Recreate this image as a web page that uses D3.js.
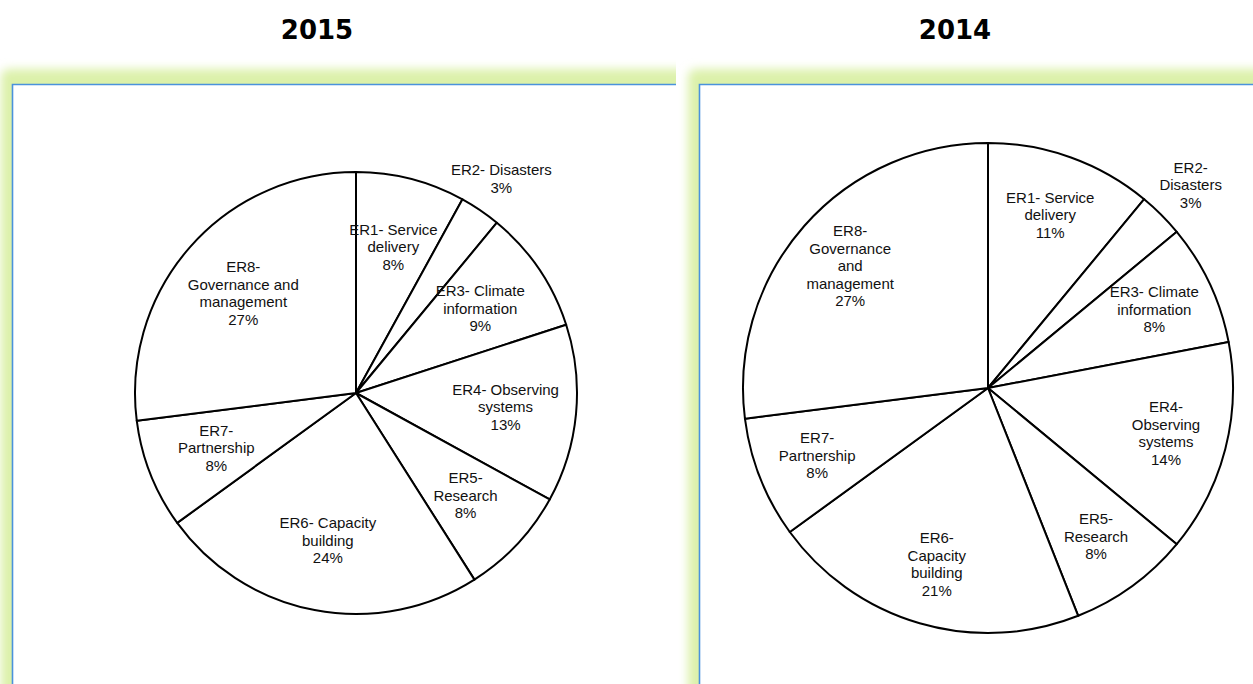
<!DOCTYPE html>
<html>
<head>
<meta charset="utf-8">
<script src="https://cdn.jsdelivr.net/npm/d3@7"></script>
<style>
    body { margin: 0; background: #fff; }
    svg { display: block; }
    .title { font-family: "DejaVu Sans", Verdana, sans-serif; font-weight: bold; font-size: 26px; fill: #000; }
    .label { font-family: "Liberation Sans", Arial, sans-serif; font-size: 15px; fill: #111; }
    .slice { fill: #fff; stroke: #000; stroke-width: 2px; stroke-linejoin: round; }
</style>
</head>
<body>
<svg id="chart" width="1253" height="684"></svg>
<script>
// category names, wrapped as in each chart
const labels2015 = [
    ['ER1- Service', 'delivery'],
    ['ER2- Disasters'],
    ['ER3- Climate', 'information'],
    ['ER4- Observing', 'systems'],
    ['ER5-', 'Research'],
    ['ER6- Capacity', 'building'],
    ['ER7-', 'Partnership'],
    ['ER8-', 'Governance and', 'management']
];
const labels2014 = [
    ['ER1- Service', 'delivery'],
    ['ER2-', 'Disasters'],
    ['ER3- Climate', 'information'],
    ['ER4-', 'Observing', 'systems'],
    ['ER5-', 'Research'],
    ['ER6-', 'Capacity', 'building'],
    ['ER7-', 'Partnership'],
    ['ER8-', 'Governance', 'and', 'management']
];

// shares in percent
const values2015 = [8, 3, 9, 13, 8, 24, 8, 27];
const values2014 = [11, 3, 8, 14, 8, 21, 8, 27];

const titles = ['2015', '2014'];

const charts = [
    { title: titles[0], labels: labels2015, values: values2015,
      panel: { x: 12, y: 84, w: 664 }, titleX: 317, cx: 356, cy: 393, r: 221, labelRatio: 0.68 },
    { title: titles[1], labels: labels2014, values: values2014,
      panel: { x: 699, y: 84, w: 554 }, titleX: 955, cx: 988, cy: 388, r: 245, labelRatio: 0.75 }
];

const svg = d3.select('#chart');
const H = 684;

let defs = svg.append('defs');
defs.append('filter')
    .attr('id', 'glow')
    .attr('x', '-20%').attr('y', '-20%')
    .attr('width', '140%').attr('height', '140%')
    .append('feGaussianBlur')
    .attr('stdDeviation', 5);

function drawPanel(c, i) {
    let p = c.panel;

    defs.append('clipPath')
        .attr('id', 'clip' + i)
        .append('rect')
        .attr('x', p.x - 30).attr('y', p.y - 30)
        .attr('width', p.w + 30).attr('height', H);

    let g = svg.append('g').attr('clip-path', 'url(#clip' + i + ')');

    g.append('rect')
        .attr('x', p.x - 11).attr('y', p.y - 15)
        .attr('width', p.w + 40).attr('height', H)
        .attr('rx', 8)
        .attr('fill', '#dcf1aa')
        .attr('filter', 'url(#glow)');

    g.append('rect')
        .attr('x', p.x).attr('y', p.y)
        .attr('width', p.w + 40).attr('height', H)
        .attr('fill', '#fff');

    g.append('path')
        .attr('d', 'M' + (p.x + 0.5) + ',' + H + 'V' + (p.y + 0.5) + 'H' + (p.x + p.w))
        .attr('fill', 'none')
        .attr('stroke', '#4a92dc')
        .attr('stroke-width', 1.6);
}

function drawPie(c) {
    let pie = d3.pie().sort(null).value(d => d);
    let arcs = pie(c.values);

    let arc = d3.arc().innerRadius(0).outerRadius(c.r);

    svg.append('text')
        .classed('title', true)
        .attr('x', c.titleX)
        .attr('y', 39)
        .attr('text-anchor', 'middle')
        .text(c.title);

    let g = svg.append('g')
        .attr('transform', 'translate(' + c.cx + ',' + c.cy + ')');

    g.selectAll('path')
        .data(arcs)
        .join('path')
        .classed('slice', true)
        .attr('d', arc);

    let lineH = 17.5;

    g.selectAll('text')
        .data(arcs)
        .join('text')
        .classed('label', true)
        .attr('text-anchor', 'middle')
        .each(function(d, i) {
            // small slices get their label outside the pie
            let outside = d.value < 5;
            let rr = outside ? c.r * 1.17 : c.r * c.labelRatio;
            let a = (d.startAngle + d.endAngle) / 2;
            let x = Math.sin(a) * rr;
            let y = -Math.cos(a) * rr;
            let lines = c.labels[i].concat([d.value + '%']);
            let y0 = y - (lines.length - 1) * lineH / 2 + 5;
            d3.select(this)
                .selectAll('tspan')
                .data(lines)
                .join('tspan')
                .attr('x', x)
                .attr('y', (t, j) => y0 + j * lineH)
                .text(t => t);
        });
}

charts.forEach(drawPanel);
charts.forEach(drawPie);
</script>
</body>
</html>
